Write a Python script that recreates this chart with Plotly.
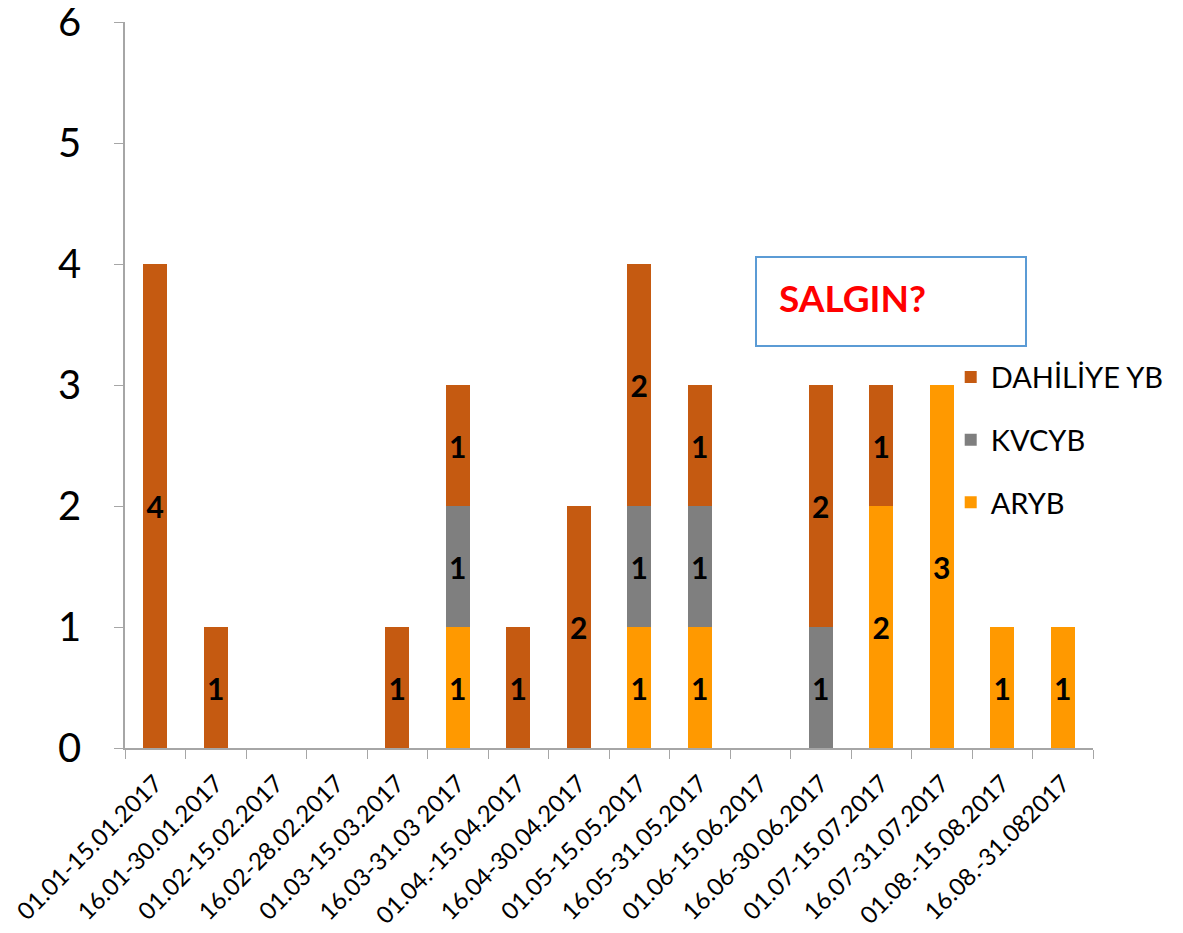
import plotly.graph_objects as go

categories = ["01.01-15.01.2017", "16.01-30.01.2017", "01.02-15.02.2017", "16.02-28.02.2017",
              "01.03-15.03.2017", "16.03-31.03 2017", "01.04.-15.04.2017", "16.04-30.04.2017",
              "01.05-15.05.2017", "16.05-31.05.2017", "01.06-15.06.2017", "16.06-30.06.2017",
              "01.07-15.07.2017", "16.07-31.07.2017", "01.08.-15.08.2017", "16.08.-31.082017"]
aryb = [0, 0, 0, 0, 0, 1, 0, 0, 1, 1, 0, 0, 2, 3, 1, 1]
kvcyb = [0, 0, 0, 0, 0, 1, 0, 0, 1, 1, 0, 1, 0, 0, 0, 0]
dahiliye = [4, 1, 0, 0, 1, 1, 1, 2, 2, 1, 0, 2, 1, 0, 0, 0]

series = [("ARYB", aryb, "#FF9900", 3), ("KVCYB", kvcyb, "#7F7F7F", 2), ("DAHİLİYE YB", dahiliye, "#C55A11", 1)]
FONT = "Lato"

fig = go.Figure()
for name, vals, color, rank in series:
    fig.add_trace(go.Bar(
        x=categories, y=vals, name=name, marker_color=color, marker_line_width=0,
        text=[str(v) if v else "" for v in vals], textposition="inside",
        insidetextanchor="middle", textangle=0, constraintext="none",
        textfont=dict(family=FONT, size=30, color="black", weight="bold"),
        legendgroup=name, legendrank=rank,
    ))

fig.update_layout(
    barmode="stack", bargap=0.6,
    width=1183, height=933,
    margin=dict(l=117, r=98, t=14, b=193, autoexpand=False),
    plot_bgcolor="white", paper_bgcolor="white",
    font=dict(family=FONT, color="black"),
    showlegend=True,
    legend=dict(x=0.853, y=0.546, xanchor="left", yanchor="top",
                traceorder="grouped", tracegroupgap=22,
                font=dict(family=FONT, size=29, color="black"),
                bgcolor="rgba(0,0,0,0)"),
)
fig.update_xaxes(type="category", range=[-0.5, 15.5], showline=True, linecolor="#A6A6A6", linewidth=1.5,
                 ticks="outside", tickson="boundaries", ticklen=9, tickcolor="#A6A6A6",
                 tickangle=-45, tickfont=dict(family=FONT, size=24, color="black"),
                 ticklabelstandoff=10, ticklabeloverflow="allow",
                 showgrid=False, zeroline=False, automargin=False)
fig.update_yaxes(range=[0, 6], dtick=1, showline=True, linecolor="#A6A6A6", linewidth=1.5,
                 ticks="outside", ticklen=9, tickcolor="#A6A6A6", ticklabelstandoff=25,
                 ticklabeloverflow="allow",
                 tickfont=dict(family=FONT, size=40, color="black"),
                 showgrid=False, zeroline=False, automargin=False)

# SALGIN? box
fig.add_shape(type="rect", xref="paper", yref="paper",
              x0=(756 - 125) / 968, x1=(1026 - 125) / 968,
              y0=(748 - 346) / 726, y1=(748 - 257) / 726,
              line=dict(color="#5B9BD5", width=2), fillcolor="white", layer="above")
fig.add_annotation(xref="paper", yref="paper", x=(777 - 125) / 968, y=(748 - 297) / 726,
                   xanchor="left", yanchor="middle", showarrow=False,
                   text="<b>SALGIN?</b>", font=dict(family=FONT, size=37, color="#FF0000"))

fig.write_html("out.html")
